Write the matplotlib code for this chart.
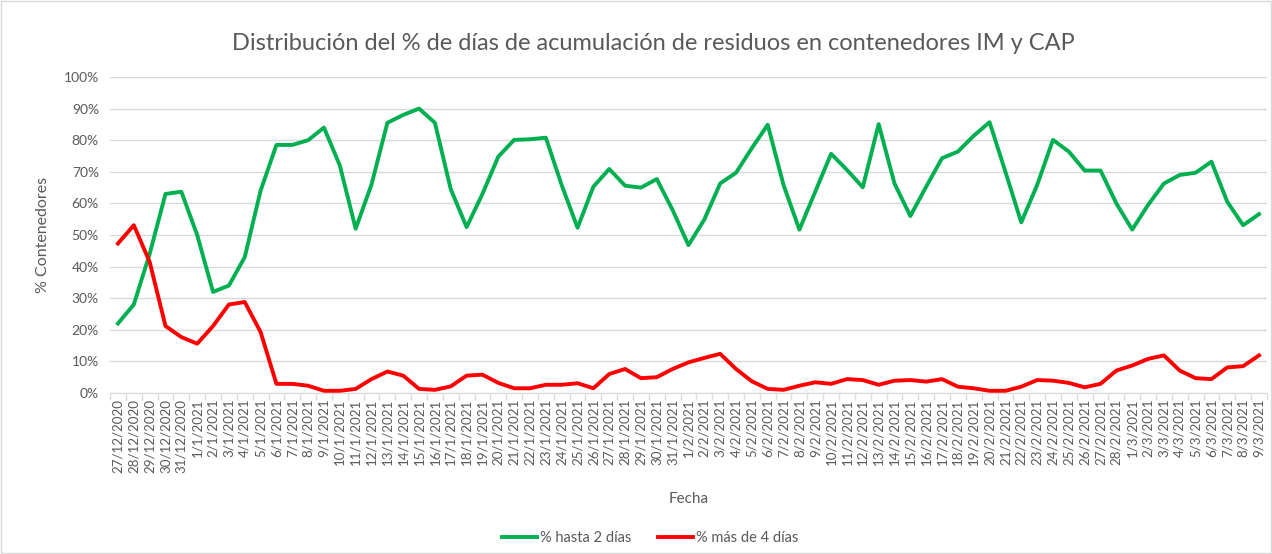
import matplotlib.pyplot as plt
import matplotlib.ticker as mticker
from matplotlib.patches import Rectangle

plt.rcParams['font.family'] = ['Lato', 'DejaVu Sans']

fechas = (['%d/12/2020' % d for d in range(27, 32)]
          + ['%d/1/2021' % d for d in range(1, 32)]
          + ['%d/2/2021' % d for d in range(1, 29)]
          + ['%d/3/2021' % d for d in range(1, 10)])

hasta_2 = [22, 28, 44, 63, 63.7, 50, 32, 34, 43, 64,
           78.5, 78.5, 80, 84, 72, 52, 66, 85.5, 88, 90,
           85.5, 64.5, 52.5, 63, 74.8, 80.1, 80.3, 80.8, 65.8, 52.3,
           65.3, 70.9, 65.6, 65, 67.7, 57.9, 46.8, 54.9, 66.3, 69.7,
           77.5, 84.9, 65.8, 51.7, 63.7, 75.7, 70.6, 65.1, 85.1, 66.3,
           56, 65.3, 74.3, 76.4, 81.4, 85.7, 70, 54, 65.8, 80.1,
           76.4, 70.4, 70.4, 60, 51.7, 59.5, 66.3, 69, 69.7, 73.2,
           60.5, 53.1, 56.6]

mas_4 = [47.3, 53.1, 41.5, 21.2, 17.7, 15.6, 21.2, 28, 28.8, 19.3,
         2.9, 2.9, 2.3, 0.7, 0.7, 1.3, 4.4, 6.8, 5.5, 1.3,
         1, 2.1, 5.5, 5.8, 3.2, 1.5, 1.5, 2.6, 2.6, 3.1,
         1.5, 6, 7.6, 4.7, 5, 7.6, 9.7, 11.1, 12.4, 7.6,
         3.7, 1.3, 1, 2.3, 3.4, 2.9, 4.4, 4.1, 2.6, 3.9,
         4.1, 3.6, 4.4, 2, 1.5, 0.7, 0.7, 2, 4.1, 3.9,
         3.2, 1.8, 2.9, 7.1, 8.7, 10.8, 11.9, 7.1, 4.7, 4.4,
         8.1, 8.5, 11.9]

gris = '#595959'
x = list(range(len(fechas)))

fig = plt.figure(figsize=(12.72, 5.54), dpi=100)
ax = fig.add_axes([0.0865, 0.2906, 0.9095, 0.5704])

ax.plot(x, [v / 100 for v in hasta_2], color='#00B050', lw=2.8, label='% hasta 2 días',
        solid_joinstyle='round', zorder=3)
ax.plot(x, [v / 100 for v in mas_4], color='#FF0000', lw=2.8, label='% más de 4 días',
        solid_joinstyle='round', zorder=3)

ax.set_xlim(-0.5, len(fechas) - 0.5)
ax.set_ylim(0, 1)
ax.yaxis.set_major_locator(mticker.MultipleLocator(0.1))
ax.yaxis.set_major_formatter(mticker.PercentFormatter(1.0, decimals=0))
ax.grid(axis='y', color='#D9D9D9', lw=1)
ax.set_axisbelow(True)

ax.set_xticks(x)
ax.set_xticklabels(fechas, rotation=90, fontsize=9.6, color=gris)
ax.set_xticks([i - 0.5 for i in range(len(fechas) + 1)], minor=True)
ax.tick_params(axis='x', which='major', length=0, pad=4)
ax.tick_params(axis='x', which='minor', length=5, color='#D9D9D9', width=1)
ax.tick_params(axis='y', length=0, labelsize=10, labelcolor=gris, pad=8)

for s in ['top', 'right', 'left']:
    ax.spines[s].set_visible(False)
ax.spines['bottom'].set_color('#D9D9D9')

ax.set_ylabel('% Contenedores', fontsize=11.5, color=gris, labelpad=10)
ax.set_xlabel('Fecha', fontsize=11, color=gris, labelpad=14)
fig.text(0.514, 0.922, 'Distribución del % de días de acumulación de residuos en contenedores IM y CAP',
         fontsize=17, color=gris, ha='center', va='center')

fig.legend(loc='center', bbox_to_anchor=(0.511, 0.029), ncol=2, frameon=False,
           fontsize=10.5, labelcolor=gris, handlelength=2.4, handletextpad=0.2,
           columnspacing=1.8)

fig.patches.append(Rectangle((0.001, 0.001), 0.998, 0.998, transform=fig.transFigure,
                             fill=False, edgecolor='#D9D9D9', lw=1))

fig.savefig('out.png', dpi=100)
